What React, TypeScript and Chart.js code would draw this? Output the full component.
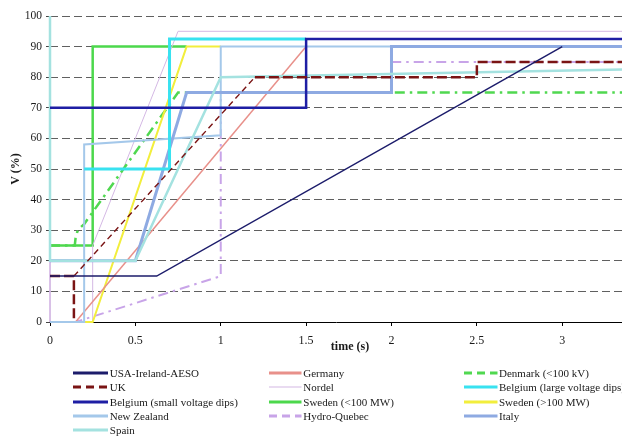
import React, { useEffect, useRef } from "react";
import { Chart, registerables } from "chart.js";

Chart.register(...registerables);

// ---------- data (time in s, voltage in %) ----------
const aesoT = [0, 0.625, 3];
const aesoV = [15, 15, 90];

const germanyT = [0.15, 1.5];
const germanyV = [0, 90];

const denmarkT = [0, 0.145, 0.15, 0.16, 0.18, 0.2, 0.75, 2, 3.35];
const denmarkV = [25, 25, 27.5, 29.5, 31, 32, 75, 75, 75];

const ukT = [0, 0.14, 0.14, 0.14, 0.14, 1.2, 2.5, 2.5, 3.35];
const ukV: (number | null)[] = [15, 15, 0, null, 15, 80, 80, 85, 85];

const nordelT = [0, 0, 0.25, 0.25, 0.75, 3.35];
const nordelV = [20, 0, 0, 25, 95, 95];

const belgiumLargeT = [0.2, 0.7, 0.7, 1.5];
const belgiumLargeV = [50, 50, 92.5, 92.5];

const belgiumSmallT = [0, 1.5, 1.5, 3.35];
const belgiumSmallV = [70, 70, 92.5, 92.5];

const swedenSmallT = [0, 0.25, 0.25, 0.8];
const swedenSmallV = [25, 25, 90, 90];

const swedenLargeT = [0.2, 0.25, 0.8, 1];
const swedenLargeV = [0, 0, 90, 90];

const newZealandT = [0, 0.2, 0.2, 1, 1, 3.35];
const newZealandV = [0, 0, 58, 61, 90, 90];

const hydroQuebecT = [0, 0.15, 1, 1, 2, 2, 3.35];
const hydroQuebecV = [0, 0, 15, 75, 75, 85, 85];

const italyT = [0, 0.5, 0.8, 2, 2, 3.35];
const italyV = [20, 20, 75, 75, 90, 90];

const spainT = [0, 0, 0.5, 1, 3.35];
const spainV = [100, 20, 20, 80, 82.5];

const xMin = 0;
const xMax = 3.35;
const xStep = 0.5;
const yMin = 0;
const yMax = 100;
const yStep = 10;

const xTitle = "time (s)";
const yTitle = "V (%)";

// ---------- styles ----------
const FONT = '"Liberation Serif", "Times New Roman", serif';
const FRAME_W = 622;
const FRAME_H = 436;
const CANVAS_H = 360;
const PLOT_BOTTOM = 322;
const PLOT_LEFT = 50;

type Series = {
  key: string;
  label: string;
  t: number[];
  v: (number | null)[];
  color: string;
  width: number;
  dash?: number[];
  thinSlopes?: boolean;
};

const S: Record<string, Series> = {
  aeso: { key: "aeso", label: "USA-Ireland-AESO", t: aesoT, v: aesoV, color: "#1c1c6b", width: 1.5 },
  uk: { key: "uk", label: "UK", t: ukT, v: ukV, color: "#7a1414", width: 2.5, dash: [10, 4], thinSlopes: true },
  belgiumSmall: { key: "belgiumSmall", label: "Belgium (small voltage dips)", t: belgiumSmallT, v: belgiumSmallV, color: "#1e1ea4", width: 2.5 },
  belgiumLarge: { key: "belgiumLarge", label: "Belgium (large voltage dips)", t: belgiumLargeT, v: belgiumLargeV, color: "#38e2f0", width: 3 },
  spain: { key: "spain", label: "Spain", t: spainT, v: spainV, color: "#a4e2e0", width: 2.5 },
  italy: { key: "italy", label: "Italy", t: italyT, v: italyV, color: "#8eaae2", width: 3 },
  newZealand: { key: "newZealand", label: "New Zealand", t: newZealandT, v: newZealandV, color: "#a4c8ea", width: 2 },
  germany: { key: "germany", label: "Germany", t: germanyT, v: germanyV, color: "#e8908a", width: 1.5 },
  swedenLarge: { key: "swedenLarge", label: "Sweden (>100 MW)", t: swedenLargeT, v: swedenLargeV, color: "#f2ee3c", width: 2 },
  hydroQuebec: { key: "hydroQuebec", label: "Hydro-Quebec", t: hydroQuebecT, v: hydroQuebecV, color: "#c8a4e8", width: 2, dash: [10, 5, 2.5, 5] },
  denmark: { key: "denmark", label: "Denmark (<100 kV)", t: denmarkT, v: denmarkV, color: "#50d850", width: 2.5, dash: [10, 5, 2.5, 5] },
  nordel: { key: "nordel", label: "Nordel", t: nordelT, v: nordelV, color: "#d4b8e4", width: 1 },
  swedenSmall: { key: "swedenSmall", label: "Sweden (<100 MW)", t: swedenSmallT, v: swedenSmallV, color: "#4cd84c", width: 2.5 },
};

// drawing order: first = on top
const drawOrder = [
  "aeso", "uk", "belgiumSmall", "belgiumLarge", "spain", "italy", "newZealand",
  "germany", "swedenLarge", "hydroQuebec", "denmark", "nordel", "swedenSmall",
];

const legendCol1 = ["aeso", "uk", "belgiumSmall", "newZealand", "spain"];
const legendCol2 = ["germany", "nordel", "swedenSmall", "hydroQuebec"];
const legendCol3 = ["denmark", "belgiumLarge", "swedenLarge", "italy"];

const legendRowsY = [372.7, 387.2, 401.7, 416, 430.3];
const legendColsX = [73.3, 269.3, 464];
const legendSampleW = [35, 32.5, 33.5];

function LegendItem({ s, x, y, w }: { s: Series; x: number; y: number; w: number }) {
  return (
    <div
      style={{
        position: "absolute",
        left: x,
        top: y - 8,
        height: 16,
        display: "flex",
        alignItems: "center",
        whiteSpace: "nowrap",
        fontFamily: FONT,
        fontSize: 11,
        color: "#1a1a1a",
      }}
    >
      <svg width={w} height={8} style={{ display: "block", marginRight: 1.5 }}>
        <line
          x1={0}
          y1={4}
          x2={w}
          y2={4}
          stroke={s.color}
          strokeWidth={s.width < 1.5 ? 1.2 : 2.8}
          strokeDasharray={s.dash ? "8 5" : undefined}
        />
      </svg>
      <span>{s.label}</span>
    </div>
  );
}

export default function App() {
  const ref = useRef<HTMLCanvasElement | null>(null);

  useEffect(() => {
    document.body.style.margin = "0";
    const canvas = ref.current;
    if (!canvas) return;
    const datasets = drawOrder.map((k) => {
      const s = S[k];
      const ds: any = {
        label: s.label,
        data: s.t.map((t, i) => ({ x: t, y: s.v[i] })),
        borderColor: s.color,
        backgroundColor: s.color,
        borderWidth: s.width,
        borderDash: s.dash || [],
        borderCapStyle: "butt",
        borderJoinStyle: "miter",
        pointRadius: 0,
        pointHoverRadius: 0,
        tension: 0,
        fill: false,
        spanGaps: false,
        clip: 8,
      };
      if (s.thinSlopes) {
        const sloped = (c: any) =>
          c.p0.parsed.x !== c.p1.parsed.x && c.p0.parsed.y !== c.p1.parsed.y;
        ds.segment = {
          borderWidth: (c: any) => (sloped(c) ? 1.4 : undefined),
          borderDash: (c: any) => (sloped(c) ? [6, 4] : undefined),
        };
      }
      return ds;
    });
    const chart = new Chart(canvas, {
      type: "line",
      data: { datasets },
      options: {
        responsive: false,
        animation: false,
        devicePixelRatio: 1,
        events: [],
        layout: { padding: { top: 16, left: 0, right: 0, bottom: 0 } },
        plugins: { legend: { display: false }, tooltip: { enabled: false } },
        scales: {
          x: {
            type: "linear",
            min: xMin,
            max: xMax,
            ticks: {
              stepSize: xStep,
              includeBounds: false,
              padding: 8,
              color: "#1a1a1a",
              maxRotation: 0,
              autoSkip: false,
              font: { family: FONT, size: 12 },
              callback: (v: any) => String(Math.round(Number(v) * 10) / 10),
            },
            grid: {
              drawOnChartArea: false,
              drawTicks: true,
              tickLength: 4,
              tickColor: "#000",
            },
            border: { display: true, color: "#000", width: 1 },
            afterFit: (scale: any) => {
              scale.height = CANVAS_H - PLOT_BOTTOM;
            },
          },
          y: {
            type: "linear",
            min: yMin,
            max: yMax,
            ticks: {
              stepSize: yStep,
              padding: 4,
              color: "#1a1a1a",
              font: { family: FONT, size: 11.5 },
            },
            grid: {
              color: "#606060",
              lineWidth: 1,
              drawTicks: true,
              tickLength: 4,
              tickColor: "#444",
              tickBorderDash: [],
            },
            border: { display: false, dash: [8, 4] },
            title: {
              display: true,
              text: yTitle,
              color: "#1a1a1a",
              font: { family: FONT, size: 12, weight: "bold" },
              padding: { top: 9, bottom: 0 },
            },
            afterFit: (scale: any) => {
              scale.width = PLOT_LEFT;
            },
          },
        },
      } as any,
    });
    return () => chart.destroy();
  }, []);

  const cols = [legendCol1, legendCol2, legendCol3];

  return (
    <div style={{ position: "fixed", left: 0, top: 0, width: FRAME_W, height: FRAME_H, overflow: "hidden", background: "#fff" }}>
      <canvas ref={ref} width={FRAME_W} height={CANVAS_H} style={{ display: "block" }} />
      <div
        style={{
          position: "absolute",
          left: 350,
          top: 346,
          transform: "translate(-50%, -50%)",
          fontFamily: FONT,
          fontSize: 12,
          fontWeight: "bold",
          color: "#1a1a1a",
          whiteSpace: "nowrap",
        }}
      >
        {xTitle}
      </div>
      {cols.map((col, ci) =>
        col.map((k, ri) => (
          <LegendItem key={k} s={S[k]} x={legendColsX[ci]} y={legendRowsY[ri]} w={legendSampleW[ci]} />
        ))
      )}
    </div>
  );
}
